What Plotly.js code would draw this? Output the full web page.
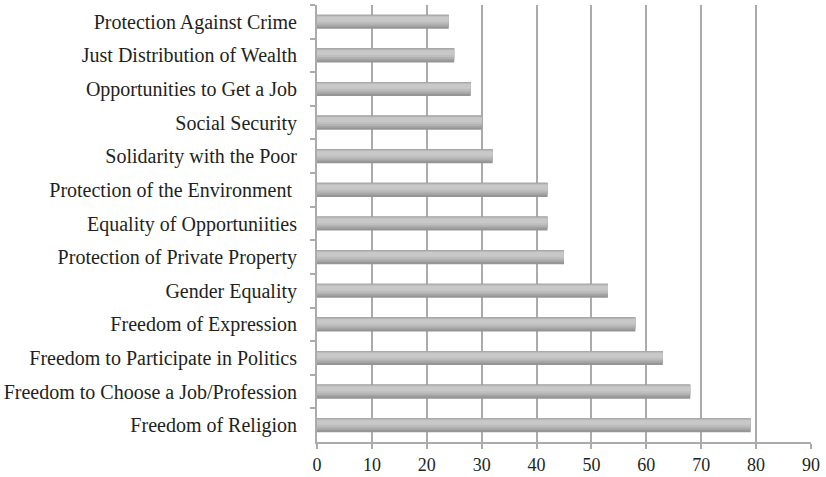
<!DOCTYPE html>
<html>
<head>
<meta charset="utf-8">
<script src="https://cdn.plot.ly/plotly-3.0.1.min.js"></script>
<style>html,body{margin:0;padding:0;background:#fff}#chart{width:826px;height:477px}</style>
</head>
<body>
<div id="chart"></div>
<script>
const categories = [
  "Protection Against Crime",
  "Just Distribution of Wealth",
  "Opportunities to Get a Job",
  "Social Security",
  "Solidarity with the Poor",
  "Protection of the Environment ",
  "Equality of Opportuniities",
  "Protection of Private Property",
  "Gender Equality",
  "Freedom of Expression",
  "Freedom to Participate in Politics",
  "Freedom to Choose a Job/Profession",
  "Freedom of Religion"
];
const values = [24, 25, 28, 30, 32, 42, 42, 45, 53, 58, 63, 68, 79];
const xTicks = [0, 10, 20, 30, 40, 50, 60, 70, 80, 90];

// nested shading layers (painted in order) to mimic the cylindrical gradient
const shadeLayers = [
  { offset: -0.21, width: 0.42, color: "#959595" },
  { offset: -0.21, width: 0.36, color: "#a4a4a4" },
  { offset: -0.19, width: 0.29, color: "#b2b2b2" },
  { offset: -0.17, width: 0.22, color: "#bebebe" },
  { offset: -0.15, width: 0.14, color: "#c8c8c8" }
];

const traces = shadeLayers.map(s => ({
  type: "bar",
  orientation: "h",
  y: categories,
  x: values,
  offset: s.offset,
  width: s.width,
  marker: { color: s.color, line: { width: 0 } },
  hoverinfo: "x+y",
  showlegend: false
}));

const layout = {
  width: 826,
  height: 477,
  margin: { l: 317, r: 15, t: 5, b: 35 },
  paper_bgcolor: "#fff",
  plot_bgcolor: "#fff",
  barmode: "overlay",
  font: { family: "Liberation Serif, Times New Roman, serif", size: 20, color: "#231f20" },
  xaxis: {
    range: [0, 90],
    tickvals: xTicks,
    ticktext: xTicks.map(String),
    tickfont: { size: 18 },
    showgrid: true,
    gridcolor: "#ababab",
    gridwidth: 2,
    zeroline: false,
    showline: true,
    linecolor: "#ababab",
    linewidth: 2,
    ticks: "outside",
    ticklen: 5,
    tickcolor: "#ababab",
    tickwidth: 2,
    fixedrange: true
  },
  yaxis: {
    type: "category",
    autorange: "reversed",
    showgrid: false,
    zeroline: false,
    showline: true,
    linecolor: "#ababab",
    linewidth: 2,
    ticks: "outside",
    tickson: "boundaries",
    ticklen: 5,
    tickcolor: "#ababab",
    tickwidth: 2,
    ticklabelstandoff: 14,
    fixedrange: true
  }
};

Plotly.newPlot("chart", traces, layout, { displayModeBar: false, staticPlot: true });
</script>
</body>
</html>
